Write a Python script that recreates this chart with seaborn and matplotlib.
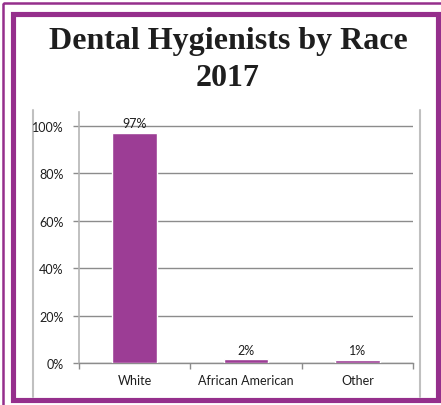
import matplotlib
matplotlib.use("Agg")
import matplotlib.pyplot as plt
from matplotlib.patches import Rectangle
from matplotlib.lines import Line2D
import seaborn as sns
import pandas as pd

# chart data
categories = ["White", "African American", "Other"]
shares = [0.97, 0.016, 0.014]
share_labels = ["97%", "2%", "1%"]
y_ticks = [0.0, 0.2, 0.4, 0.6, 0.8, 1.0]
y_tick_labels = ["0%", "20%", "40%", "60%", "80%", "100%"]
title_lines = ["Dental Hygienists by Race", "2017"]

BAR = "#9C3D95"
FRAME = "#952F8C"
W, H = 441, 406

sns.set_style("white")
plt.rcParams["font.family"] = ["Lato", "DejaVu Sans"]

df = pd.DataFrame({"race": categories, "share": shares})

fig = plt.figure(figsize=(W / 100, H / 100), dpi=100)

# decorative frame drawn in pixel space
deco = fig.add_axes([0, 0, 1, 1], zorder=0)
deco.set_xlim(0, W)
deco.set_ylim(H, 0)
deco.axis("off")
deco.patch.set_alpha(0)
deco.add_patch(Rectangle((3.3, 4.3), 445, 410, fill=False, ec=FRAME, lw=1.8))
deco.add_patch(Rectangle((12.5, 14.7), 425, 386, fill=False, ec=FRAME, lw=3.7))
deco.add_line(Line2D([33, 33], [111, 398], color="#C0C0C0", lw=1.5))
deco.add_line(Line2D([420, 420], [111, 398], color="#C0C0C0", lw=1.5))

ax = fig.add_axes([79 / W, 42 / H, 334 / W, 251.5 / H], zorder=1)
ax.patch.set_alpha(0)
sns.barplot(data=df, x="race", y="share", color=BAR, width=0.4,
            saturation=1, ax=ax, zorder=3)

for i, (v, lab) in enumerate(zip(shares, share_labels)):
    ax.annotate(lab, (i, v), xytext=(0, 2.5), textcoords="offset points",
                ha="center", va="bottom", fontsize=9, color="#1E1E1E")

ax.set_ylim(0, 1.06)
ax.set_xlim(-0.5, 2.5)
ax.set_yticks(y_ticks)
ax.set_yticklabels(y_tick_labels)
ax.yaxis.grid(True, color="#8C8C8C", lw=1)
ax.set_axisbelow(True)
ax.set_xlabel("")
ax.set_ylabel("")

# category boundary ticks on x axis
ax.set_xticks([-0.5, 0.5, 1.5, 2.5], minor=True)
ax.tick_params(axis="x", which="minor", length=4, width=1, color="#8C8C8C", bottom=True)
ax.tick_params(axis="x", which="major", length=0, pad=8, labelsize=9, labelcolor="#1E1E1E")
ax.tick_params(axis="y", length=4, width=1, color="#8C8C8C", left=True, pad=7,
               labelsize=9, labelcolor="#1E1E1E")

for s in ["top", "right"]:
    ax.spines[s].set_visible(False)
ax.spines["left"].set_color("#B5B5B5")
ax.spines["left"].set_linewidth(1.2)
ax.spines["bottom"].set_color("#8C8C8C")
ax.spines["bottom"].set_linewidth(1)

fig.text(228 / W, 1 - 42 / H, title_lines[0], ha="center", va="center",
         fontsize=23, fontweight="bold", family=["Liberation Serif"], color="#1E1E1E")
fig.text(228 / W, 1 - 78 / H, title_lines[1], ha="center", va="center",
         fontsize=23, fontweight="bold", family=["Liberation Serif"], color="#1E1E1E")

fig.savefig("out.png", dpi=100)
